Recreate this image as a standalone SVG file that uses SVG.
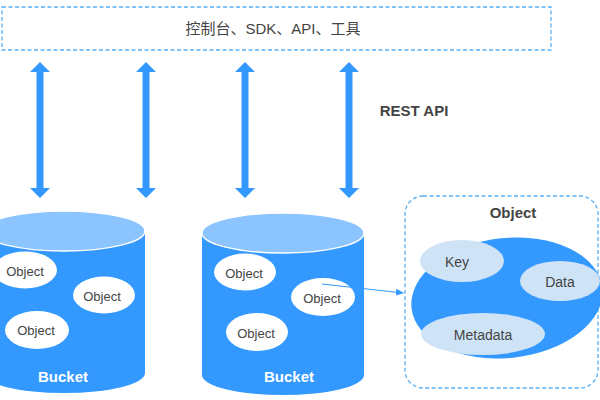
<svg xmlns="http://www.w3.org/2000/svg" width="600" height="400" viewBox="0 0 600 400">
<defs>
<style>
.dash{fill:none;stroke:#5ab0f5;stroke-width:1.3;stroke-dasharray:4 2.5}
.body{fill:#3399ff}
.top{fill:#8cc4ff;stroke:#ffffff;stroke-width:1.5}
.obj{fill:#ffffff}
.sub{fill:#cfe3f7}
.t{font-family:"Liberation Sans","Noto Sans CJK SC",Arial,sans-serif;fill:#444444;text-anchor:middle;dominant-baseline:central}
.b{font-weight:bold}
.w{fill:#ffffff}
.conn{stroke:#3399ff;stroke-width:1.2;fill:none}
</style>
<polygon id="darrow" points="0,62 10,72 3.5,72 3.5,188 10,188 0,198 -10,188 -3.5,188 -3.5,72 -10,72" fill="#3399ff"/>
<marker id="ah" markerWidth="8" markerHeight="8" refX="7" refY="4" orient="auto" markerUnits="userSpaceOnUse">
<path d="M0,0.5 L8,4 L0,7.5 Z" fill="#3399ff"/>
</marker>
</defs>
<g id="clients">
<rect class="dash" x="2" y="7" width="549" height="43"/>
<text class="t" x="273" y="28" font-size="15">控制台、SDK、API、工具</text>
</g>
<g id="rest-arrows">
<use href="#darrow" x="40"/>
<use href="#darrow" x="146"/>
<use href="#darrow" x="245"/>
<use href="#darrow" x="349"/>
<text class="t b" x="414" y="110" font-size="15">REST API</text>
</g>
<g id="bucket1">
<path class="body" d="M-17,231 L-17,373 A81,20 0 0 0 145,373 L145,231 Z"/>
<ellipse class="top" cx="64" cy="231" rx="81" ry="20"/>
<ellipse class="obj" cx="25" cy="270" rx="32" ry="18.5"/>
<text class="t" x="25" y="271" font-size="13">Object</text>
<ellipse class="obj" cx="104" cy="295" rx="31" ry="18.5"/>
<text class="t" x="102" y="296" font-size="13">Object</text>
<ellipse class="obj" cx="37" cy="330" rx="32" ry="19"/>
<text class="t" x="36" y="330" font-size="13">Object</text>
<text class="t b w" x="63" y="376" font-size="15">Bucket</text>
</g>
<g id="bucket2">
<path class="body" d="M202,233 L202,375 A81,20 0 0 0 364,375 L364,233 Z"/>
<ellipse class="top" cx="283" cy="233" rx="81" ry="20"/>
<ellipse class="obj" cx="245" cy="272" rx="31" ry="18.5"/>
<text class="t" x="244" y="273" font-size="13">Object</text>
<ellipse class="obj" cx="323" cy="297" rx="32" ry="19"/>
<text class="t" x="322" y="298" font-size="13">Object</text>
<ellipse class="obj" cx="257" cy="332" rx="31" ry="19"/>
<text class="t" x="256" y="333" font-size="13">Object</text>
<text class="t b w" x="289" y="376" font-size="15">Bucket</text>
</g>
<g id="object-detail">
<rect class="dash" x="405" y="196" width="193" height="192" rx="18"/>
<text class="t b" x="513" y="212" font-size="15">Object</text>
<ellipse class="body" cx="507" cy="298" rx="96" ry="60" transform="rotate(-6 507 298)"/>
<ellipse class="sub" cx="462" cy="261" rx="42" ry="21"/>
<text class="t" x="457" y="262" font-size="14">Key</text>
<ellipse class="sub" cx="560" cy="281" rx="40" ry="20"/>
<text class="t" x="560" y="282" font-size="14">Data</text>
<ellipse class="sub" cx="483" cy="334" rx="62" ry="21"/>
<text class="t" x="483" y="335" font-size="14">Metadata</text>
</g>
<g id="connectors">
<line class="conn" x1="322" y1="284" x2="403" y2="293" marker-end="url(#ah)"/>
</g>
</svg>
